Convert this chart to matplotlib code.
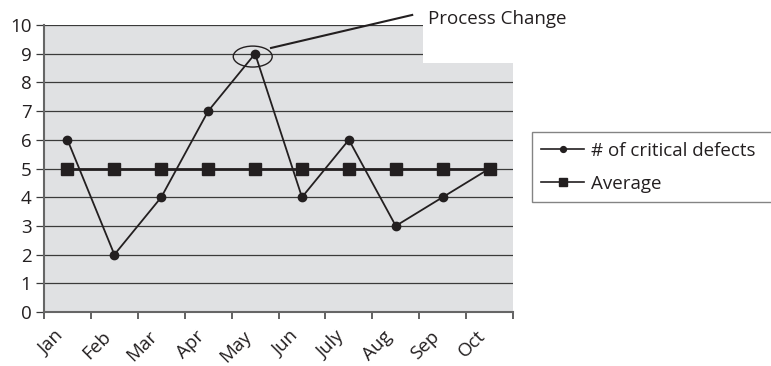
import matplotlib
matplotlib.use("Agg")
import matplotlib.pyplot as plt
from matplotlib.patches import Ellipse, Rectangle
from matplotlib.transforms import ScaledTranslation
import numpy as np

months = ["Jan", "Feb", "Mar", "Apr", "May", "Jun", "July", "Aug", "Sep", "Oct"]
critical_defects = [6, 2, 4, 7, 9, 4, 6, 3, 4, 5]
average = [5, 5, 5, 5, 5, 5, 5, 5, 5, 5]
y_ticks = list(range(0, 11))

plt.rcParams["font.family"] = ["Open Sans", "DejaVu Sans"]
plt.rcParams["text.color"] = "#231f20"
fontsize = 13.5
ink = "#231f20"

fig = plt.figure(figsize=(7.71, 3.66), dpi=100)
ax = fig.add_axes([0.0571, 0.1475, 0.6083, 0.7842])
ax.set_facecolor("#e0e1e3")

x = np.arange(len(months))
ax.plot(x, critical_defects, color=ink, linewidth=1.3, marker="o",
        markersize=6, label="# of critical defects", zorder=4)
ax.plot(x, average, color=ink, linewidth=2.0, marker="s",
        markersize=8, label="Average", zorder=3)

ax.set_xlim(-0.5, len(months) - 0.5)
ax.set_ylim(0, 10)
ax.set_yticks(y_ticks)
ax.set_yticklabels([str(t) for t in y_ticks], fontsize=fontsize, color=ink)
ax.yaxis.grid(True, color="#3a3a3a", linewidth=0.9)
ax.set_axisbelow(True)

# month names sit under the points, tick marks sit between months
ax.set_xticks(x)
ax.set_xticklabels(months, rotation=45, ha="right", rotation_mode="anchor",
                   fontsize=fontsize, color=ink)
ax.tick_params(axis="x", which="major", length=0, pad=11)
shift = ScaledTranslation(-13 / 100, 0, fig.dpi_scale_trans)
for lbl in ax.get_xticklabels():
    lbl.set_transform(lbl.get_transform() + shift)
ax.set_xticks(np.arange(-0.5, len(months)), minor=True)
ax.tick_params(axis="x", which="minor", length=5, width=1.3, color="#555555")
ax.tick_params(axis="y", length=6, width=0.9, color="#3a3a3a", pad=3)

for side in ["top", "right"]:
    ax.spines[side].set_visible(False)
for side in ["left", "bottom"]:
    ax.spines[side].set_color("#666666")
    ax.spines[side].set_linewidth(1.5)

# call-out box for the process change note
ax.add_patch(Rectangle((0.808, 0.868), 0.5, 0.2, transform=ax.transAxes,
                       facecolor="white", edgecolor="none", zorder=2.5,
                       clip_on=False))
ax.add_patch(Ellipse((3.95, 8.9), 0.83, 0.73, facecolor="none",
                     edgecolor=ink, linewidth=1.0, zorder=5))
ax.plot([4.34, 7.35], [9.2, 10.35], color=ink, linewidth=1.5,
        clip_on=False, zorder=5)
ax.text(7.68, 10.2, "Process Change", fontsize=fontsize, va="center",
        ha="left", clip_on=False)

leg = fig.legend(loc="upper left", bbox_to_anchor=(0.69, 0.439, 0.36, 0.2),
                 mode="expand", borderaxespad=0, fontsize=fontsize,
                 frameon=True, fancybox=False, handlelength=2.3,
                 handletextpad=0.35, borderpad=0.5, labelspacing=0.8,
                 markerscale=0.7)
leg.get_frame().set_edgecolor("#666666")
leg.get_frame().set_linewidth(1.0)
for line in leg.get_lines():
    line.set_linewidth(1.2)

fig.savefig("out.png", dpi=100)
